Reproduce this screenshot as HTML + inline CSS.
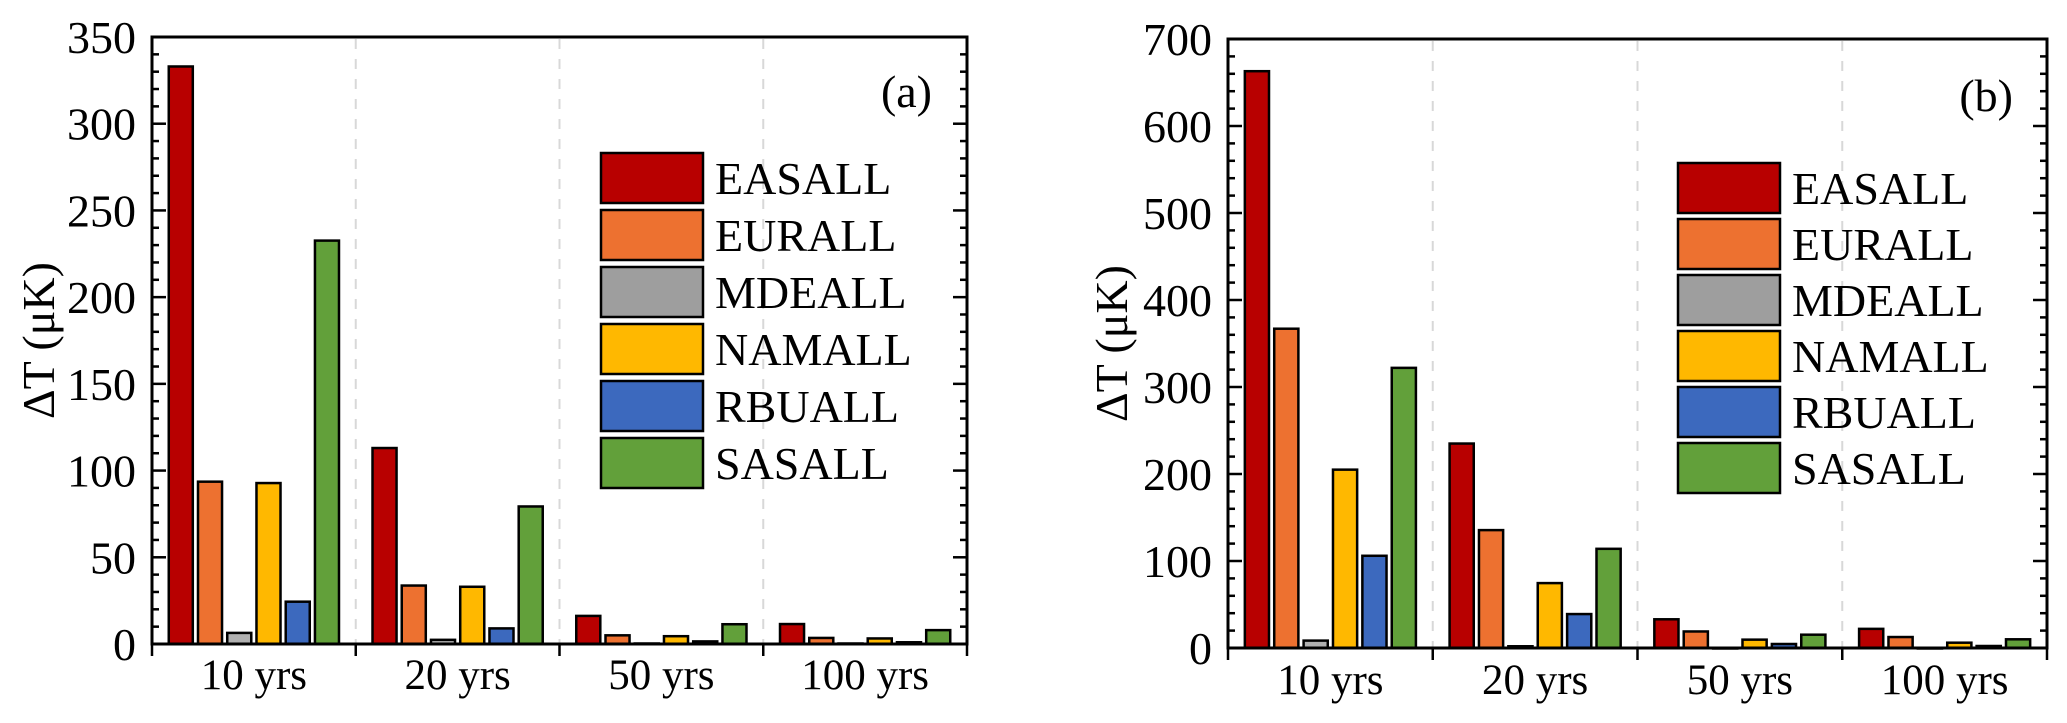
<!DOCTYPE html>
<html><head><meta charset="utf-8"><style>
html,body{margin:0;padding:0;background:#fff;}
svg{display:block;font-family:"Liberation Serif","Times New Roman",serif;}
</style></head>
<body>
<svg id="fig" width="2067" height="723" viewBox="0 0 2067 723" xmlns="http://www.w3.org/2000/svg"></svg>
<script>
const categories = ["10 yrs", "20 yrs", "50 yrs", "100 yrs"];
const seriesNames = ["EASALL", "EURALL", "MDEALL", "NAMALL", "RBUALL", "SASALL"];
const colors = ["#b80000", "#ed7130", "#9e9e9e", "#ffb800", "#3c69be", "#62a03a"];
// panel (a)
const aEAS = [333, 113, 16.2, 11.5];
const aEUR = [93.6, 33.7, 5, 3.5];
const aMDE = [6.4, 2.4, 0.3, 0.3];
const aNAM = [92.8, 33, 4.5, 3.2];
const aRBU = [24.4, 9, 1.5, 1];
const aSAS = [232.6, 79.3, 11.4, 8];
const aTicks = [0, 50, 100, 150, 200, 250, 300, 350];
// panel (b)
const bEAS = [663, 235, 33, 22];
const bEUR = [367, 135.5, 19, 12.6];
const bMDE = [8.5, 2, 0, 0];
const bNAM = [205, 74.6, 9.6, 6.1];
const bRBU = [106, 39, 4.6, 2.3];
const bSAS = [322, 114, 15.3, 10];
const bTicks = [0, 100, 200, 300, 400, 500, 600, 700];

const NS = "http://www.w3.org/2000/svg";
const svg = document.getElementById("fig");
function mk(tag, attrs, parent) {
  const e = document.createElementNS(NS, tag);
  for (const k in attrs) e.setAttribute(k, attrs[k]);
  (parent || svg).appendChild(e);
  return e;
}

function panel(cfg) {
  const g = mk("g", {});
  
  
  const {x0, x1, y0, y1, max, minor} = cfg;
  const ys = v => y0 - (v / max) * (y0 - y1);
  const cw = (x1 - x0) / categories.length;
  const xs = i => x0 + i * cw;
  for (let i = 1; i < categories.length; i++) {
    const l = mk("line", {x1: xs(i), x2: xs(i), y1: y1 + 2, y2: y0, stroke: "#d8d8d8", "stroke-width": 2, "stroke-dasharray": "10,10"}, g);
    
    
  }
  const bw = cw * 0.118, step = cw * 0.1435;
  const span = step * 5 + bw;
  cfg.series.forEach((arr, s) => {
    arr.forEach((v, i) => {
      const bx = xs(i) + (cw - span) / 2 + s * step;
      const y = ys(v);
      const r = mk("rect", {x: bx, y: y, width: bw, height: Math.max(y0 - y, 0.5), fill: s === 2 ? "#b0b0b0" : colors[s], stroke: "#000", "stroke-width": 2.5}, g);
      
      
    });
  });
  const fr = mk("rect", {x: x0, y: y1, width: x1 - x0, height: y0 - y1, fill: "none", stroke: "#000", "stroke-width": 3}, g);
  
  
  for (let v = 0; v <= max + 0.001; v += minor) {
    const major = cfg.ticks.indexOf(v) >= 0;
    const len = major ? 14 : 7;
    const y = ys(v);
    mk("line", {x1: x0, x2: x0 + len, y1: y, y2: y, stroke: "#000", "stroke-width": 2.5}, g);
    mk("line", {x1: x1, x2: x1 - len, y1: y, y2: y, stroke: "#000", "stroke-width": 2.5}, g);
  }
  cfg.ticks.forEach(v => {
    const t = mk("text", {x: x0 - 16, y: ys(v) + 16, "text-anchor": "end", "font-size": 46}, g);
    t.textContent = v;
    
    
  });
  for (let i = 0; i <= categories.length; i++) {
    mk("line", {x1: xs(i), x2: xs(i), y1: y0, y2: y0 + 12, stroke: "#000", "stroke-width": 2.5}, g);
  }
  categories.forEach((c, i) => {
    const t = mk("text", {x: xs(i) + cw / 2, y: cfg.xlabY, "text-anchor": "middle", "font-size": 43}, g);
    t.textContent = c;
    
    
  });
  const yt = mk("text", {x: 0, y: 0, "text-anchor": "middle", "font-size": 46, transform: "translate(" + cfg.ytX + "," + ((y0 + y1) / 2) + ") rotate(-90)"}, g);
  yt.textContent = "ΔT (μK)";
  
  
  const pl = mk("text", {x: cfg.plX, y: cfg.plY, "text-anchor": "end", "font-size": 46}, g);
  pl.textContent = "(" + cfg.tag + ")";
  
  
  const lg = mk("g", {}, g);
  
  
  seriesNames.forEach((n, s) => {
    const ly = cfg.legY + s * cfg.legStep;
    const e = mk("g", {}, lg);
    
    
    mk("rect", {x: cfg.legX, y: ly, width: 102, height: 50, fill: colors[s], stroke: "#000", "stroke-width": 2.5}, e);
    const t = mk("text", {x: cfg.legX + 114, y: ly + 41, "font-size": 46}, e);
    t.textContent = n;
  });
}

panel({tag: "a", x0: 152, x1: 967, y0: 644, y1: 37, max: 350, minor: 10, ticks: aTicks,
  series: [aEAS, aEUR, aMDE, aNAM, aRBU, aSAS], xlabY: 689, ytX: 54, plX: 932, plY: 107,
  legX: 601, legY: 153, legStep: 57});
panel({tag: "b", x0: 1228, x1: 2047, y0: 648, y1: 39, max: 700, minor: 20, ticks: bTicks,
  series: [bEAS, bEUR, bMDE, bNAM, bRBU, bSAS], xlabY: 694, ytX: 1127, plX: 2013, plY: 111,
  legX: 1678, legY: 163, legStep: 56});
</script>
</body></html>
